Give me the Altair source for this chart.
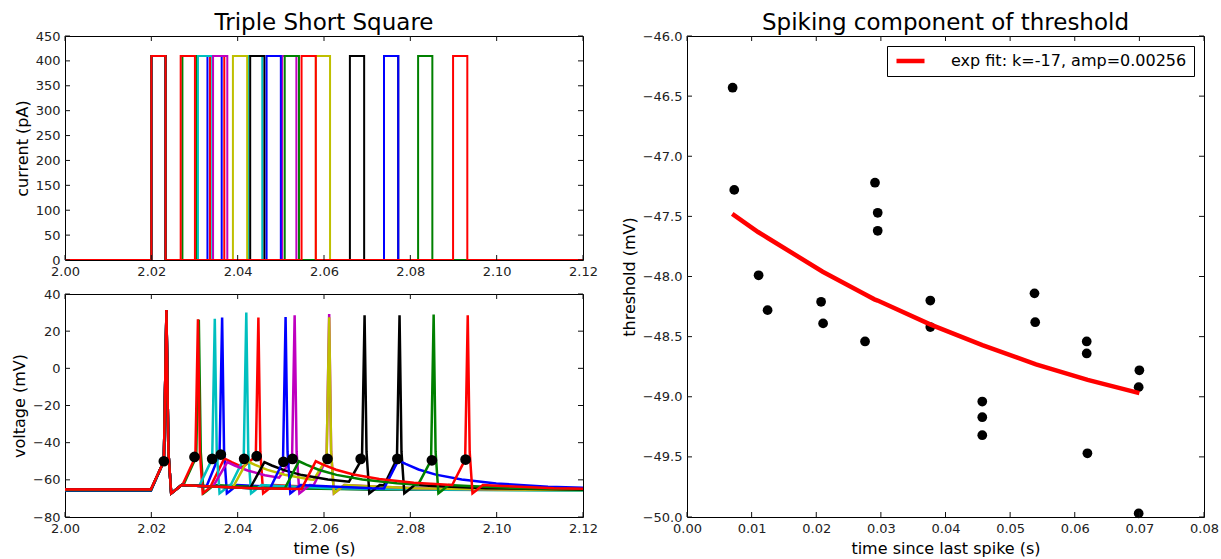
import altair as alt
import numpy as np
import pandas as pd

FONT = "DejaVu Sans"

# ---------------- left panels: sweeps ----------------
SWEEP_IDS = [f"s{i:02d}" for i in range(10)]
SWEEP_COLORS = ["#0000ff", "#008000", "#ff0000", "#00bfbf", "#bf00bf",
                "#bfbf00", "#000000", "#0000ff", "#008000", "#ff0000"]

# current pulse onsets (s) per sweep
PULSE_ONSETS = [
    [2.0200, 2.0330],
    [2.0200, 2.0272],
    [2.0200, 2.0268, 2.0336],
    [2.0200, 2.0308, 2.0424],
    [2.0200, 2.0343, 2.0503],
    [2.0200, 2.0389, 2.0581],
    [2.0200, 2.0429, 2.0660, 2.0739],
    [2.0200, 2.0467, 2.0739],
    [2.0200, 2.0509, 2.0818],
    [2.0200, 2.0548, 2.0899],
]
PULSE_WIDTH = 0.0033
PULSE_AMP = 410.0
T_START, T_END = 2.0, 2.12

# voltage: resting level and events per sweep
# ("spike", peak time, threshold mV, peak mV) / ("hump", pulse onset, apex mV, 0)
VOLT_BASE = [-65.3, -65.6, -65.2, -65.8, -65.4, -65.5, -65.3, -65.9, -65.6, -65.2]
VOLT_EVENTS = [
    [("spike", 2.0235, -50.0, 31.0), ("spike", 2.0364, -46.4, 27.3)],
    [("spike", 2.0235, -50.0, 30.5), ("spike", 2.0310, -47.7, 26.2)],
    [("spike", 2.0235, -50.0, 31.4), ("spike", 2.0308, -47.7, 26.4),
     ("hump", 2.0336, -48.5, 0), ("spike", 2.0448, -47.3, 27.3)],
    [("spike", 2.0235, -50.0, 30.8), ("spike", 2.0347, -48.7, 26.7),
     ("spike", 2.0420, -48.7, 30.0)],
    [("spike", 2.0235, -50.0, 30.5), ("hump", 2.0343, -50.5, 0),
     ("spike", 2.0532, -48.7, 28.5), ("spike", 2.0612, -48.7, 29.2)],
    [("spike", 2.0235, -50.0, 30.5), ("hump", 2.0389, -50.0, 0),
     ("spike", 2.0612, -48.7, 27.5)],
    [("spike", 2.0235, -50.0, 31.2), ("hump", 2.0429, -50.5, 0),
     ("spike", 2.0694, -48.7, 28.5), ("spike", 2.0775, -48.7, 28.5)],
    [("spike", 2.0235, -50.0, 30.5), ("spike", 2.0511, -50.3, 27.6),
     ("hump", 2.0739, -49.5, 0)],
    [("spike", 2.0235, -50.0, 30.5), ("hump", 2.0509, -50.0, 0),
     ("spike", 2.0854, -49.5, 29.0)],
    [("spike", 2.0235, -50.0, 31.4), ("hump", 2.0548, -50.0, 0),
     ("spike", 2.0933, -49.1, 28.5)],
]

# waveform templates (ms offsets, mV)
SPIKE_DOT_MS = -0.6
SPIKE_RISE_MS = 3.0
SPIKE_TAIL_MS = [0.45, 1.1, 1.8, 3.5, 8.0, 20.0, 40.0]
SPIKE_TAIL_MV = [-45.0, -67.3, -66.0, -62.8, -63.3, -64.5, -65.2]
HUMP_RISE_MS = 3.3
HUMP_DECAY_MS = [5.0, 8.0, 12.0, 18.0, 26.0, 38.0, 55.0, 80.0]
HUMP_DECAY_FRAC = [0.12, 0.30, 0.47, 0.63, 0.76, 0.87, 0.94, 0.98]

# threshold markers
DOT_T = [2.0229, 2.0300, 2.0341, 2.0361, 2.0415, 2.0444, 2.0506, 2.0527,
         2.0608, 2.0685, 2.0770, 2.0850, 2.0928]
DOT_V = [-50.0, -47.7, -48.7, -46.4, -48.7, -47.3, -50.3, -48.7,
         -48.7, -48.7, -48.7, -49.5, -49.1]

# ---------------- right panel ----------------
SC_X = [0.00706, 0.00731, 0.01108, 0.01247, 0.02075, 0.02106, 0.02755, 0.02909,
        0.02951, 0.02951, 0.03765, 0.03765, 0.04569, 0.04569, 0.04569, 0.05377,
        0.05388, 0.06185, 0.06185, 0.06196, 0.07000, 0.06989, 0.06989]
SC_Y = [-46.43, -47.28, -47.99, -48.28, -48.21, -48.39, -48.54, -47.22,
        -47.47, -47.62, -48.20, -48.42, -49.04, -49.17, -49.32, -48.14,
        -48.38, -48.54, -48.64, -49.47, -48.78, -48.92, -49.97]
FIT_X = [0.007, 0.011, 0.0125, 0.021, 0.0276, 0.029, 0.0295, 0.0377, 0.0457,
         0.054, 0.062, 0.070]
FIT_Y = [-47.48, -47.63, -47.68, -47.96, -48.15, -48.19, -48.20, -48.40, -48.57,
         -48.73, -48.86, -48.97]
FIT_LABEL = "exp fit: k=-17, amp=0.00256"

# axis ticks
T_TICKS = [2.00, 2.02, 2.04, 2.06, 2.08, 2.10, 2.12]
I_TICKS = [0, 50, 100, 150, 200, 250, 300, 350, 400, 450]
V_TICKS = [-80, -60, -40, -20, 0, 20, 40]
DT_TICKS = [0.00, 0.01, 0.02, 0.03, 0.04, 0.05, 0.06, 0.07, 0.08]
TH_TICKS = [-50.0, -49.5, -49.0, -48.5, -48.0, -47.5, -47.0, -46.5, -46.0]

# ---------------- build tables ----------------
cur_rows = []
for sid, onsets in zip(SWEEP_IDS, PULSE_ONSETS):
    pts = [(T_START, 0.0)]
    for on in onsets:
        pts += [(on, 0.0), (on, PULSE_AMP), (on + PULSE_WIDTH, PULSE_AMP), (on + PULSE_WIDTH, 0.0)]
    pts.append((T_END, 0.0))
    for k, (t, v) in enumerate(pts):
        cur_rows.append({"sweep": sid, "t": t, "i": v, "o": k})
cur_df = pd.DataFrame(cur_rows)


def build_trace(base, events):
    ts, vs = [T_START, T_END], [base, base]
    for kind, t, a, b in events:
        if kind == "spike":
            t_dot = t + SPIKE_DOT_MS / 1000
            t0 = t_dot - SPIKE_RISE_MS / 1000
            v0 = float(np.interp(t0, ts, vs))
            nt = [t0, t_dot, t] + [t + m / 1000 for m in SPIKE_TAIL_MS]
            nv = [v0, a, b] + list(SPIKE_TAIL_MV)
        else:
            t0 = t
            v0 = float(np.interp(t0, ts, vs))
            nt = [t0, t + HUMP_RISE_MS / 1000] + [t + m / 1000 for m in HUMP_DECAY_MS]
            nv = [v0, a] + [a + f * (base - a) for f in HUMP_DECAY_FRAC]
        keep = [k for k in range(len(ts)) if ts[k] < t0]
        ts = [ts[k] for k in keep] + nt
        vs = [vs[k] for k in keep] + nv
        if ts[-1] < T_END:
            ts.append(T_END)
            vs.append(base)
    return ts, vs


volt_rows = []
for sid, base, evs in zip(SWEEP_IDS, VOLT_BASE, VOLT_EVENTS):
    ts, vs = build_trace(base, evs)
    for k, (t, v) in enumerate(zip(ts, vs)):
        volt_rows.append({"sweep": sid, "t": t, "v": v, "o": k})
volt_df = pd.DataFrame(volt_rows)
dot_df = pd.DataFrame({"t": DOT_T, "v": DOT_V})
sc_df = pd.DataFrame({"x": SC_X, "y": SC_Y})
fit_df = pd.DataFrame({"x": FIT_X, "y": FIT_Y, "label": [FIT_LABEL] * len(FIT_X)})

# ---------------- charts ----------------
W_L, H_TOP, H_BOT = 518, 224, 223
W_R, H_R = 517, 481
TITLE_SIZE = 23
TICK_LEN = 5


def inward_ticks(xvals, yvals, xs, ys, xa, ya, w, h):
    """Inside-pointing tick marks on all four sides (positions from the scales)."""
    xdf = pd.DataFrame({"tx": xvals})
    ydf = pd.DataFrame({"ty": yvals})
    rule = dict(color="#111111", strokeWidth=1)
    xenc = alt.X("tx:Q", scale=xs, axis=xa)
    yenc = alt.Y("ty:Q", scale=ys, axis=ya)
    return [
        alt.Chart(xdf).mark_rule(**rule).encode(x=xenc, y=alt.value(h), y2=alt.value(h - TICK_LEN)),
        alt.Chart(xdf).mark_rule(**rule).encode(x=xenc, y=alt.value(0), y2=alt.value(TICK_LEN)),
        alt.Chart(ydf).mark_rule(**rule).encode(y=yenc, x=alt.value(0), x2=alt.value(TICK_LEN)),
        alt.Chart(ydf).mark_rule(**rule).encode(y=yenc, x=alt.value(w - TICK_LEN), x2=alt.value(w)),
    ]


sweep_color = alt.Color("sweep:N", scale=alt.Scale(domain=SWEEP_IDS, range=SWEEP_COLORS), legend=None)
t_scale = alt.Scale(domain=[T_START, T_END], nice=False, zero=False)
i_scale = alt.Scale(domain=[0, 450], nice=False)
v_scale = alt.Scale(domain=[-80, 40], nice=False, zero=False)
t_axis_top = alt.Axis(values=T_TICKS, format=".2f", title=None)
t_axis_bot = alt.Axis(values=T_TICKS, format=".2f", title="time (s)")
i_axis = alt.Axis(values=I_TICKS, format="d", title="current (pA)")
v_axis = alt.Axis(values=V_TICKS, format="d", title="voltage (mV)")

cur_lines = alt.Chart(cur_df).mark_line(strokeWidth=2, clip=True).encode(
    x=alt.X("t:Q", scale=t_scale, axis=t_axis_top),
    y=alt.Y("i:Q", scale=i_scale, axis=i_axis),
    color=sweep_color,
    order="o:Q",
)
top = alt.layer(
    cur_lines, *inward_ticks(T_TICKS, I_TICKS, t_scale, i_scale, t_axis_top, i_axis, W_L, H_TOP)
).properties(width=W_L, height=H_TOP,
             title=alt.TitleParams("Triple Short Square", fontSize=TITLE_SIZE, font=FONT,
                                   fontWeight="normal", offset=-5))

volt_lines = alt.Chart(volt_df).mark_line(strokeWidth=2.5, clip=True).encode(
    x=alt.X("t:Q", scale=t_scale, axis=t_axis_bot),
    y=alt.Y("v:Q", scale=v_scale, axis=v_axis),
    color=sweep_color,
    order="o:Q",
)
volt_dots = alt.Chart(dot_df).mark_circle(size=115, color="black", opacity=1).encode(
    x=alt.X("t:Q", scale=t_scale, axis=t_axis_bot),
    y=alt.Y("v:Q", scale=v_scale, axis=v_axis),
)
bottom = alt.layer(
    volt_lines, volt_dots,
    *inward_ticks(T_TICKS, V_TICKS, t_scale, v_scale, t_axis_bot, v_axis, W_L, H_BOT)
).properties(width=W_L, height=H_BOT)

x_r = alt.Scale(domain=[0, 0.08], nice=False, zero=False)
y_r = alt.Scale(domain=[-50, -46], nice=False, zero=False)
x_r_axis = alt.Axis(values=DT_TICKS, format=".2f", title="time since last spike (s)")
y_r_axis = alt.Axis(values=TH_TICKS, format=".1f", title="threshold (mV)")
pts = alt.Chart(sc_df).mark_circle(size=95, color="black", opacity=1).encode(
    x=alt.X("x:Q", scale=x_r, axis=x_r_axis),
    y=alt.Y("y:Q", scale=y_r, axis=y_r_axis),
)
fit = alt.Chart(fit_df).mark_line(strokeWidth=4.5, clip=True).encode(
    x=alt.X("x:Q", scale=x_r, axis=x_r_axis),
    y=alt.Y("y:Q", scale=y_r, axis=y_r_axis),
    color=alt.Color("label:N", scale=alt.Scale(domain=[FIT_LABEL], range=["#ff0000"]),
                    legend=alt.Legend(title=None, orient="top-right", offset=10,
                                      strokeColor="black", fillColor="white",
                                      padding=7, symbolType="stroke",
                                      symbolStrokeWidth=4.5, symbolSize=784,
                                      clipHeight=16,
                                      labelOffset=24, labelLimit=500,
                                      labelFontSize=16, labelFont=FONT,
                                      labelColor="black", cornerRadius=0)),
)
right = alt.layer(
    pts, fit, *inward_ticks(DT_TICKS, TH_TICKS, x_r, y_r, x_r_axis, y_r_axis, W_R, H_R)
).properties(
    width=W_R, height=H_R,
    title=alt.TitleParams("Spiking component of threshold", fontSize=TITLE_SIZE, font=FONT,
                          fontWeight="normal", offset=-5))

left = alt.VConcatChart(vconcat=[top, bottom], spacing=34, bounds="flush")
chart = alt.HConcatChart(hconcat=[left, right], spacing=22).resolve_scale(
    color="independent"
).properties(
    padding={"left": 11, "top": 11, "right": 0, "bottom": 0}
).configure_view(
    stroke="black", strokeWidth=1
).configure_axis(
    grid=False, ticks=False, domain=False, labelFlush=False, labelOverlap=False,
    labelFont=FONT, titleFont=FONT, labelFontSize=13, titleFontSize=16,
    titleFontWeight="normal", labelColor="#222222", titleColor="black",
    labelPadding=5, titlePadding=5,
).configure_title(color="black", anchor="middle")

chart.save("out.html", embed_options={"renderer": "svg", "actions": False})
